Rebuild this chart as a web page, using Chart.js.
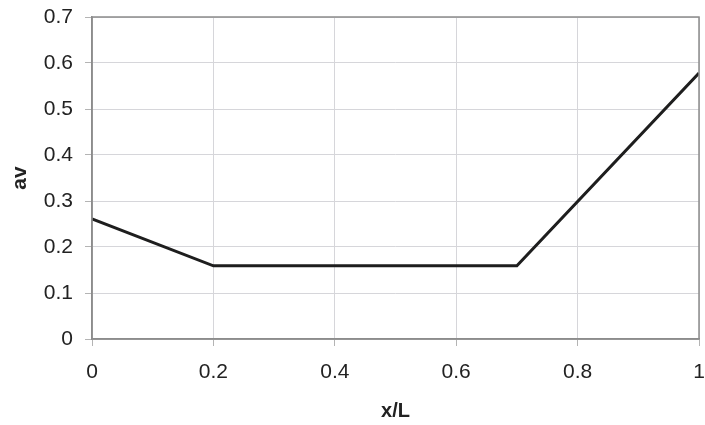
<!DOCTYPE html>
<html>
<head>
<meta charset="utf-8">
<script src="https://cdn.jsdelivr.net/npm/chart.js@4/dist/chart.umd.min.js"></script>
<style>
html,body{margin:0;padding:0;background:#fff;}
#wrap{width:705px;height:425px;position:relative;}
</style>
</head>
<body>
<div id="wrap"><canvas id="c" width="705" height="425"></canvas></div>
<script>
const xValues = [0, 0.2, 0.7, 1.0];
const avValues = [0.261, 0.159, 0.159, 0.578];
const xTicks = [0, 0.2, 0.4, 0.6, 0.8, 1];
const yTicks = [0, 0.1, 0.2, 0.3, 0.4, 0.5, 0.6, 0.7];
const xTitle = 'x/L';
const yTitle = 'av';

const points = xValues.map((x, i) => ({x: x, y: avValues[i]}));
const FONT = 'Liberation Sans, Arial, sans-serif';

const frame = {
  id: 'frame',
  afterDraw(chart) {
    const {ctx, chartArea: a} = chart;
    ctx.save();
    ctx.strokeStyle = '#8c8c8c';
    ctx.lineWidth = 1.5;
    ctx.strokeRect(a.left, a.top, a.right - a.left, a.bottom - a.top);
    ctx.restore();
  }
};

new Chart(document.getElementById('c'), {
  type: 'scatter',
  data: {
    datasets: [{
      data: points,
      showLine: true,
      borderColor: '#1e1e1e',
      borderWidth: 3,
      pointRadius: 0,
      fill: false,
      tension: 0
    }]
  },
  options: {
    responsive: false,
    animation: false,
    layout: {padding: {left: 0, right: 6, top: 17, bottom: 0}},
    plugins: {legend: {display: false}, tooltip: {enabled: false}},
    scales: {
      x: {
        type: 'linear',
        min: 0, max: 1,
        afterBuildTicks: (s) => { s.ticks = xTicks.map(v => ({value: v})); },
        afterFit: (s) => { s.height = 86; s.paddingLeft = 0; s.paddingRight = 0; },
        ticks: {
          color: '#222',
          font: {family: FONT, size: 21},
          padding: 14,
          maxRotation: 0,
          callback: (v) => String(v)
        },
        grid: {color: '#d6d6da', lineWidth: 1, tickLength: 7, tickColor: '#b4b4b4'},
        border: {color: '#8c8c8c', width: 1.5},
        title: {
          display: true, text: xTitle, color: '#222',
          font: {family: FONT, size: 20, weight: 'bold'},
          padding: {top: 0, bottom: 2}
        }
      },
      y: {
        type: 'linear',
        min: 0, max: 0.7,
        afterBuildTicks: (s) => { s.ticks = yTicks.map(v => ({value: v})); },
        afterFit: (s) => { s.width = 92; s.paddingTop = 0; s.paddingBottom = 0; },
        ticks: {
          color: '#222',
          font: {family: FONT, size: 21},
          padding: 12,
          callback: (v) => String(v)
        },
        grid: {color: '#d6d6da', lineWidth: 1, tickLength: 7, tickColor: '#b4b4b4'},
        border: {color: '#8c8c8c', width: 1.5},
        title: {
          display: true, text: yTitle, color: '#222',
          font: {family: FONT, size: 21, weight: 'bold'},
          padding: {top: 8, bottom: 0}
        }
      }
    }
  },
  plugins: [frame]
});
</script>
</body>
</html>
